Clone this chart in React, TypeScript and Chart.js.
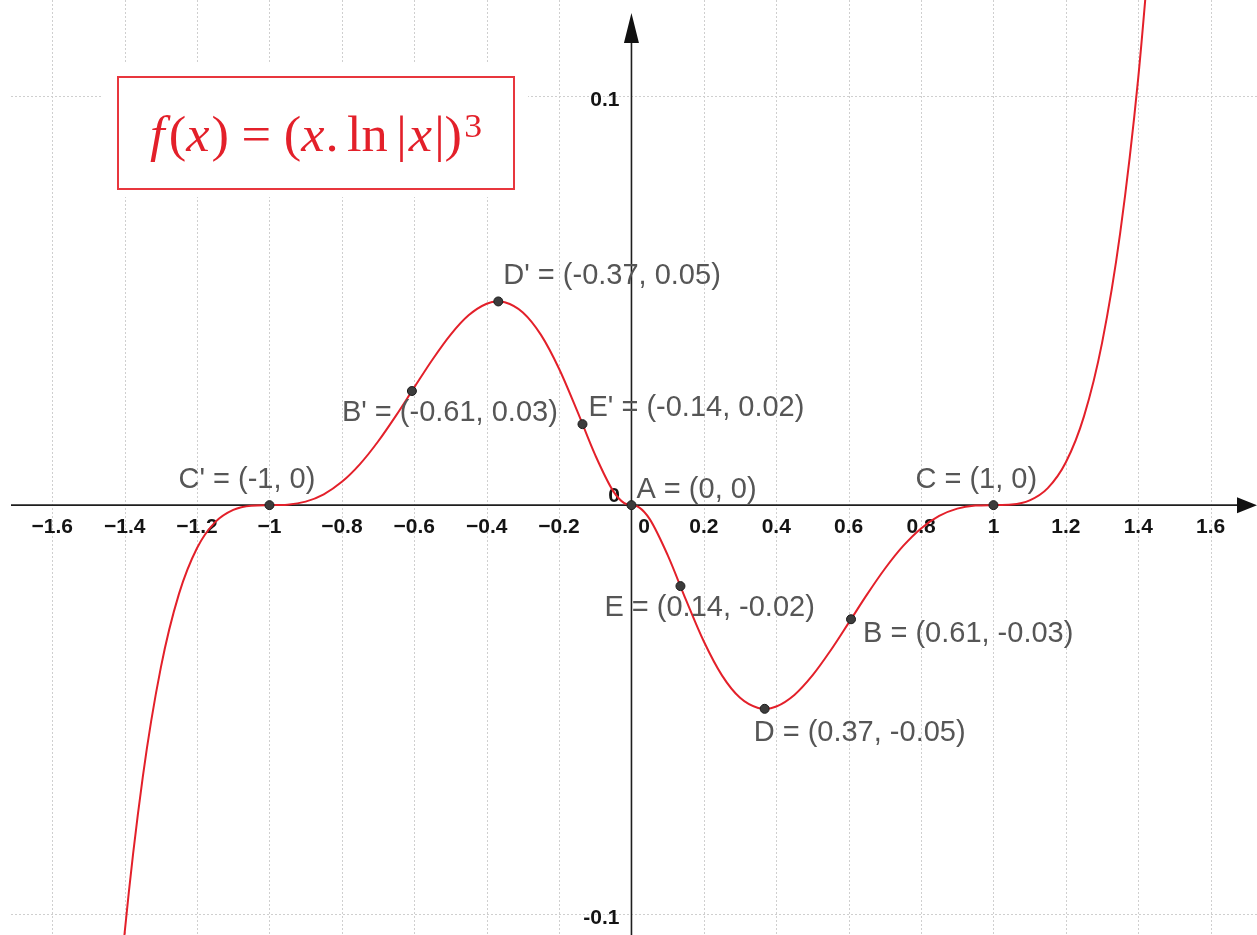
import React, { useEffect, useRef } from "react";
import { Chart, registerables } from "chart.js";

Chart.register(...registerables);

// Sampled curve of f(x) = (x·ln|x|)^3
const curveX = [
  -1.45, -1.4, -1.35, -1.3, -1.25, -1.2, -1.15, -1.1, -1.05, -1,
  -0.95, -0.9, -0.85, -0.8, -0.75, -0.7, -0.65, -0.6, -0.55, -0.5,
  -0.45, -0.4, -0.37, -0.35, -0.3, -0.25, -0.2, -0.15, -0.1, -0.05, -0.02,
  0,
  0.02, 0.05, 0.1, 0.15, 0.2, 0.25, 0.3, 0.35, 0.37, 0.4, 0.45,
  0.5, 0.55, 0.6, 0.65, 0.7, 0.75, 0.8, 0.85, 0.9, 0.95,
  1, 1.05, 1.1, 1.15, 1.2, 1.25, 1.3, 1.35, 1.4, 1.45,
];
const curveY = [
  -0.15639, -0.10453, -0.0665, -0.03968, -0.0217, -0.01047, -0.00415, -0.00115, -0.00013, 0,
  0.00012, 0.00085, 0.00264, 0.00569, 0.01004, 0.01556, 0.02195, 0.02879, 0.03555, 0.04163,
  0.0464, 0.04924, 0.04979, 0.04961, 0.04712, 0.04163, 0.03335, 0.02304, 0.01221, 0.00336, 0.00048,
  0,
  -0.00048, -0.00336, -0.01221, -0.02304, -0.03335, -0.04163, -0.04712, -0.04961, -0.04979, -0.04924, -0.0464,
  -0.04163, -0.03555, -0.02879, -0.02195, -0.01556, -0.01004, -0.00569, -0.00264, -0.00085, -0.00012,
  0, 0.00013, 0.00115, 0.00415, 0.01047, 0.0217, 0.03968, 0.0665, 0.10453, 0.15639,
];

// Named points on the curve
const pointNames = ["A", "B", "C", "D", "E", "B'", "C'", "D'", "E'"];
const pointX = [0, 0.6065, 1, 0.3679, 0.1353, -0.6065, -1, -0.3679, -0.1353];
const pointY = [0, -0.0279, 0, -0.0498, -0.0198, 0.0279, 0, 0.0498, 0.0198];

// Axis ticks
const xTickValues = [-1.6, -1.4, -1.2, -1, -0.8, -0.6, -0.4, -0.2, 0.2, 0.4, 0.6, 0.8, 1, 1.2, 1.4, 1.6];
const xTickLabels = ["−1.6", "−1.4", "−1.2", "−1", "−0.8", "−0.6", "−0.4", "−0.2", "0.2", "0.4", "0.6", "0.8", "1", "1.2", "1.4", "1.6"];
const yTickValues = [0.1, -0.1];
const yTickLabels = ["0.1", "-0.1"];
const originLabel = "0";

// Visible window
const X_MIN = -1.714;
const X_MAX = 1.728;
const Y_MIN = -0.1051;
const Y_MAX = 0.1235;

// Where each point's caption sits relative to the point (px)
const labelOffsets: Record<string, [number, number]> = {
  A: [5, -7],
  B: [12, 23],
  C: [-78, -17],
  D: [-11, 32],
  E: [-76, 30],
  "B'": [-70, 30],
  "C'": [-91, -17],
  "D'": [5, -17],
  "E'": [6, -8],
};

const RED = "#e3202a";
const SANS = '"Liberation Sans", Arial, sans-serif';
const SERIF = '"Liberation Serif", "Times New Roman", serif';

const fmt = (v: number) => String(Number(v.toFixed(2)));

function drawFormula(ctx: CanvasRenderingContext2D) {
  // white backdrop and framed box
  ctx.save();
  ctx.fillStyle = "#ffffff";
  ctx.fillRect(103, 63, 425, 134);
  ctx.strokeStyle = "#e8363e";
  ctx.lineWidth = 2;
  ctx.strokeRect(118, 77, 396, 112);

  const size = 50;
  const parts = [
    { t: "f", it: true, gap: 0, sup: false },
    { t: "(", it: false, gap: 4, sup: false },
    { t: "x", it: true, gap: 0, sup: false },
    { t: ")", it: false, gap: 2, sup: false },
    { t: "=", it: false, gap: 12, sup: false },
    { t: "(", it: false, gap: 12, sup: false },
    { t: "x", it: true, gap: 0, sup: false },
    { t: ".", it: false, gap: 1, sup: false },
    { t: "ln", it: false, gap: 8, sup: false },
    { t: "|", it: false, gap: 8, sup: false },
    { t: "x", it: true, gap: 2, sup: false },
    { t: "|", it: false, gap: 2, sup: false },
    { t: ")", it: false, gap: 0, sup: false },
    { t: "3", it: false, gap: 2, sup: true },
  ];
  const fontFor = (p: { it: boolean; sup: boolean }) =>
    `${p.it ? "italic " : ""}${p.sup ? 34 : size}px ${SERIF}`;
  let total = 0;
  const widths = parts.map((p) => {
    ctx.font = fontFor(p);
    const w = ctx.measureText(p.t).width;
    total += p.gap + w;
    return w;
  });
  const targetWidth = 332;
  ctx.translate(150, 151);
  ctx.scale(targetWidth / total, 1);
  ctx.fillStyle = RED;
  ctx.textBaseline = "alphabetic";
  ctx.textAlign = "left";
  let x = 0;
  parts.forEach((p, i) => {
    x += p.gap;
    ctx.font = fontFor(p);
    ctx.fillText(p.t, x, p.sup ? -14 : 0);
    x += widths[i];
  });
  ctx.restore();
}

const axesPlugin = {
  id: "cartesianAxes",
  beforeDatasetsDraw(chart: any) {
    const { ctx, chartArea } = chart;
    const xs = chart.scales.x;
    const ys = chart.scales.y;
    const x0 = xs.getPixelForValue(0);
    const y0 = ys.getPixelForValue(0);
    const canvasH = chart.height;

    ctx.save();
    // dotted grid
    ctx.strokeStyle = "#cfcfcf";
    ctx.lineWidth = 1;
    ctx.setLineDash([2, 2]);
    xTickValues.forEach((v) => {
      const px = Math.round(xs.getPixelForValue(v)) + 0.5;
      ctx.beginPath();
      ctx.moveTo(px, 0);
      ctx.lineTo(px, canvasH);
      ctx.stroke();
    });
    yTickValues.forEach((v) => {
      const py = Math.round(ys.getPixelForValue(v)) + 0.5;
      ctx.beginPath();
      ctx.moveTo(chartArea.left, py);
      ctx.lineTo(chartArea.right, py);
      ctx.stroke();
    });
    ctx.setLineDash([]);
    ctx.restore();

    drawFormula(ctx);

    ctx.save();
    // axes
    ctx.strokeStyle = "#1e1e1e";
    ctx.fillStyle = "#111111";
    ctx.lineWidth = 1.6;
    ctx.beginPath();
    ctx.moveTo(chartArea.left, y0);
    ctx.lineTo(1240, y0);
    ctx.stroke();
    ctx.beginPath();
    ctx.moveTo(x0, 40);
    ctx.lineTo(x0, canvasH);
    ctx.stroke();
    // arrow heads
    ctx.beginPath();
    ctx.moveTo(1257, y0);
    ctx.lineTo(1237, y0 - 8);
    ctx.lineTo(1237, y0 + 8);
    ctx.closePath();
    ctx.fill();
    ctx.beginPath();
    ctx.moveTo(x0, 13);
    ctx.lineTo(x0 - 7.5, 43);
    ctx.lineTo(x0 + 7.5, 43);
    ctx.closePath();
    ctx.fill();

    // tick labels
    ctx.font = `bold 21px ${SANS}`;
    ctx.fillStyle = "#141414";
    ctx.textBaseline = "alphabetic";
    ctx.textAlign = "center";
    xTickValues.forEach((v, i) => {
      ctx.fillText(xTickLabels[i], xs.getPixelForValue(v), y0 + 28);
    });
    ctx.textAlign = "right";
    yTickValues.forEach((v, i) => {
      ctx.fillText(yTickLabels[i], x0 - 12, ys.getPixelForValue(v) + 10);
    });
    // origin labels
    ctx.textAlign = "center";
    ctx.fillText(originLabel, x0 + 12.5, y0 + 28);
    ctx.fillText(originLabel, x0 - 17.5, y0 - 3);
    ctx.restore();
  },
  afterDatasetsDraw(chart: any) {
    const { ctx } = chart;
    const xs = chart.scales.x;
    const ys = chart.scales.y;
    ctx.save();
    ctx.font = `29px ${SANS}`;
    ctx.fillStyle = "#565656";
    ctx.textAlign = "left";
    ctx.textBaseline = "alphabetic";
    pointNames.forEach((name, i) => {
      const px = xs.getPixelForValue(pointX[i]);
      const py = ys.getPixelForValue(pointY[i]);
      const [dx, dy] = labelOffsets[name];
      const text = `${name} = (${fmt(pointX[i])}, ${fmt(pointY[i])})`;
      ctx.fillText(text, px + dx, py + dy);
    });
    ctx.restore();
  },
};

export default function App() {
  const canvasRef = useRef<HTMLCanvasElement | null>(null);

  useEffect(() => {
    const canvas = canvasRef.current;
    if (!canvas) return;
    const chart = new Chart(canvas, {
      type: "scatter",
      data: {
        datasets: [
          {
            label: "points",
            data: pointX.map((x, i) => ({ x, y: pointY[i] })),
            showLine: false,
            pointRadius: 4.5,
            pointBackgroundColor: "#3c3c3c",
            pointBorderColor: "#1c1c1c",
            pointBorderWidth: 1,
            order: 0,
          },
          {
            label: "f",
            data: curveX.map((x, i) => ({ x, y: curveY[i] })),
            showLine: true,
            borderColor: RED,
            borderWidth: 2,
            pointRadius: 0,
            cubicInterpolationMode: "monotone",
            order: 1,
          },
        ],
      },
      options: {
        responsive: false,
        animation: false,
        devicePixelRatio: 1,
        layout: { autoPadding: false, padding: { left: 11, right: 0, top: 0, bottom: 0 } },
        scales: {
          x: { type: "linear", min: X_MIN, max: X_MAX, display: false },
          y: { type: "linear", min: Y_MIN, max: Y_MAX, display: false },
        },
        plugins: {
          legend: { display: false },
          tooltip: { enabled: false },
        },
        events: [],
      },
      plugins: [axesPlugin],
    } as any);
    return () => chart.destroy();
  }, []);

  return (
    <div style={{ position: "absolute", left: 0, top: 0, width: 1257, height: 935, background: "#ffffff" }}>
      <canvas ref={canvasRef} width={1257} height={935} style={{ display: "block" }} />
    </div>
  );
}
